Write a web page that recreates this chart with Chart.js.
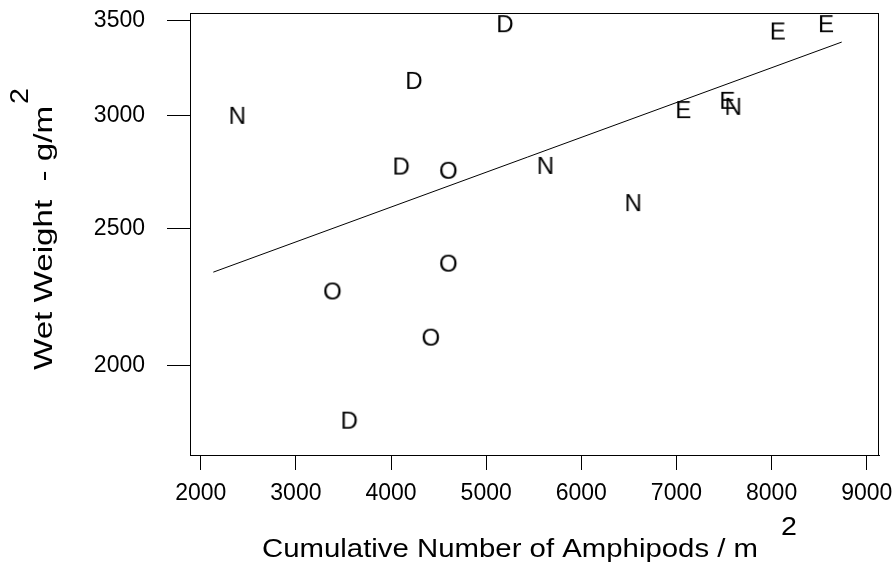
<!DOCTYPE html>
<html>
<head>
<meta charset="utf-8">
<script src="https://cdn.jsdelivr.net/npm/chart.js@4"></script>
<style>
  html, body { margin: 0; padding: 0; background: #fff; }
  #wrap { width: 895px; height: 566px; }
</style>
</head>
<body>
<div id="wrap"><canvas id="chart" width="895" height="566"></canvas></div>
<script>
// amphipod counts (x) and wet weight (y) per site group
const dX = [4242, 5198, 4108, 3562];
const dY = [3179, 3485, 2767, 1833];
const nX = [2385, 5624, 6547, 7598];
const nY = [3004, 2770, 2608, 3048];
const oX = [4602, 4602, 3383, 4417];
const oY = [2748, 2364, 2260, 2097];
const eX = [7072, 7535, 8065, 8572];
const eY = [3032, 3078, 3444, 3485];

// fitted line end points
const fitX = [2132, 8737];
const fitY = [2328, 3380];

const xTicks = [2000, 3000, 4000, 5000, 6000, 7000, 8000, 9000];
const yTicks = [2000, 2500, 3000, 3500];

const xTitle = 'Cumulative Number of Amphipods / m';
const yTitle = 'Wet Weight  - g/m';

const FONT = '"Liberation Sans", Arial, sans-serif';

function pts(xs, ys) {
  return xs.map((x, i) => ({ x: x, y: ys[i] }));
}

// draw a letter onto a small canvas to use as point style
function letterMark(ch) {
  const c = document.createElement('canvas');
  c.width = 30;
  c.height = 30;
  const g = c.getContext('2d');
  g.font = '24px ' + FONT;
  g.fillStyle = '#000';
  g.textAlign = 'center';
  g.textBaseline = 'alphabetic';
  g.fillText(ch, 15, 15 + 8.6);
  return c;
}

function letterSet(ch, xs, ys) {
  return {
    label: ch,
    data: pts(xs, ys),
    showLine: false,
    pointStyle: letterMark(ch),
    pointRadius: 10,
    clip: false
  };
}

const frameAndTitles = {
  id: 'frameAndTitles',
  afterDraw(chart) {
    const ctx = chart.ctx;
    const a = chart.chartArea;
    ctx.save();
    ctx.strokeStyle = '#000';
    ctx.lineWidth = 1;
    ctx.strokeRect(a.left + 0.5, a.top + 0.5, a.right - a.left - 1, a.bottom - a.top);

    ctx.fillStyle = '#000';
    ctx.textAlign = 'left';
    ctx.textBaseline = 'alphabetic';
    ctx.font = '25px ' + FONT;

    // x title, stretched to the width seen in the original
    let w = ctx.measureText(xTitle).width;
    ctx.save();
    ctx.translate(262, 557);
    ctx.scale(496 / w, 1);
    ctx.fillText(xTitle, 0, 0);
    ctx.restore();

    // y title, rotated
    w = ctx.measureText(yTitle).width;
    ctx.save();
    ctx.translate(52, 370);
    ctx.rotate(-Math.PI / 2);
    ctx.scale(264 / w, 1);
    ctx.fillText(yTitle, 0, 0);
    ctx.restore();

    // superscript 2s
    ctx.font = '26px ' + FONT;
    ctx.save();
    ctx.translate(781, 535);
    ctx.scale(1.1, 1);
    ctx.fillText('2', 0, 0);
    ctx.restore();

    ctx.save();
    ctx.translate(28, 104);
    ctx.rotate(-Math.PI / 2);
    ctx.scale(1.1, 1);
    ctx.fillText('2', 0, 0);
    ctx.restore();

    ctx.restore();
  }
};

new Chart(document.getElementById('chart'), {
  type: 'scatter',
  data: {
    datasets: [
      letterSet('D', dX, dY),
      letterSet('N', nX, nY),
      letterSet('O', oX, oY),
      letterSet('E', eX, eY),
      {
        label: 'fit',
        data: pts(fitX, fitY),
        showLine: true,
        borderColor: '#000',
        borderWidth: 1,
        pointRadius: 0,
        fill: false
      }
    ]
  },
  options: {
    responsive: false,
    animation: false,
    layout: { padding: { left: 0, top: 13, right: 16, bottom: 0 } },
    plugins: {
      legend: { display: false },
      tooltip: { enabled: false }
    },
    scales: {
      x: {
        type: 'linear',
        bounds: 'data',
        min: 1887,
        max: 9129,
        afterFit(scale) {
          scale.height = 111;
          scale.paddingLeft = 0;
          scale.paddingRight = 0;
        },
        afterBuildTicks(scale) { scale.ticks = xTicks.map(v => ({ value: v })); },
        grid: { drawOnChartArea: false, tickLength: 15, color: '#000', lineWidth: 1 },
        border: { display: true, color: '#000', width: 1 },
        ticks: {
          autoSkip: false,
          maxRotation: 0,
          padding: 10,
          color: '#000',
          font: { family: FONT, size: 23 },
          callback: v => String(v)
        }
      },
      y: {
        type: 'logarithmic',
        bounds: 'data',
        min: 1731,
        max: 3543,
        afterFit(scale) {
          scale.width = 190;
          scale.paddingTop = 0;
          scale.paddingBottom = 0;
        },
        afterBuildTicks(scale) { scale.ticks = yTicks.map(v => ({ value: v })); },
        grid: { drawOnChartArea: false, tickLength: 23, color: '#000', lineWidth: 1 },
        border: { display: true, color: '#000', width: 1 },
        ticks: {
          autoSkip: false,
          padding: 22,
          color: '#000',
          font: { family: FONT, size: 23 },
          callback: v => String(v)
        }
      }
    }
  },
  plugins: [frameAndTitles]
});
</script>
</body>
</html>
